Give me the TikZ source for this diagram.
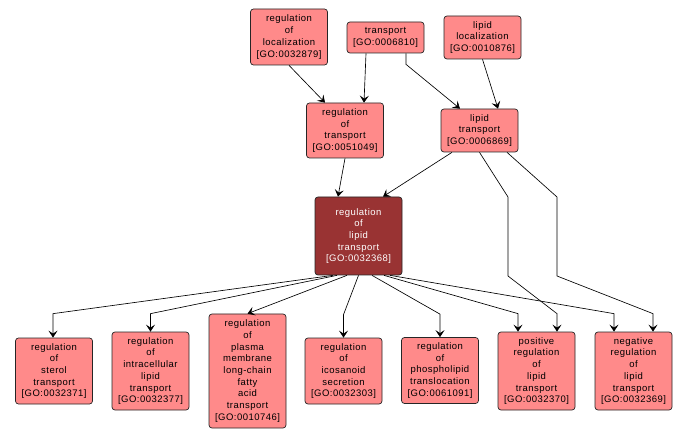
\documentclass[tikz,border=0pt]{standalone}
\usepackage{fontspec}
\newfontfamily\gofont[LetterSpace=5]{Liberation Sans}
\definecolor{termred}{RGB}{255,138,138}
\definecolor{focusred}{RGB}{153,51,51}
\usetikzlibrary{arrows.meta, positioning}

\tikzset{
  term/.style={draw=black!85, fill=termred, rounded corners=3pt, line width=0.7pt, minimum width=77pt, align=center, inner sep=2pt, font=\gofont\fontsize{9.5}{11.7}\selectfont},
  focus/.style={term, fill=focusred, text=white, minimum width=87pt},
  edge/.style={-{Stealth[length=7pt, width=9pt, inset=3pt]}, line width=0.65pt}
}

\begin{document}
\begin{tikzpicture}[x=1pt, y=-1pt]
  \useasboundingbox (0,0) rectangle (688,438);

  % Parents
  \node[term, minimum height=56pt] (regloc) at (289,37) {regulation\\of\\localization\\{[GO:0032879]}};
  \node[term, minimum height=31pt] (transport) at (385.5,37.5) {transport\\{[GO:0006810]}};
  \node[term, minimum height=43pt] (lipidloc) at (482.5,37.5) {lipid\\localization\\{[GO:0010876]}};

  \node[term, minimum height=55pt] (regtrans) at (345,130.5) {regulation\\of\\transport\\{[GO:0051049]}};
  \node[term, minimum height=43pt] (lipidtrans) at (479.5,130.5) {lipid\\transport\\{[GO:0006869]}};

  % Focus term
  \node[focus, minimum height=78pt] (reglipid) at (358.5,236) {regulation\\of\\lipid\\transport\\{[GO:0032368]}};

  % Children
  \node[term, minimum height=66pt] (sterol) at (54,371) {regulation\\of\\sterol\\transport\\{[GO:0032371]}};
  \node[term, minimum height=78pt] (intracell) at (150.5,371) {regulation\\of\\intracellular\\lipid\\transport\\{[GO:0032377]}};
  \node[term, minimum height=114pt] (plasma) at (247.5,371) {regulation\\of\\plasma\\membrane\\long-chain\\fatty\\acid\\transport\\{[GO:0010746]}};
  \node[term, minimum height=66pt] (icosanoid) at (343.5,371) {regulation\\of\\icosanoid\\secretion\\{[GO:0032303]}};
  \node[term, minimum height=66pt] (phospho) at (440,370.5) {regulation\\of\\phospholipid\\translocation\\{[GO:0061091]}};
  \node[term, minimum height=78pt] (posreg) at (536.5,371) {positive\\regulation\\of\\lipid\\transport\\{[GO:0032370]}};
  \node[term, minimum height=78pt] (negreg) at (633.5,371) {negative\\regulation\\of\\lipid\\transport\\{[GO:0032369]}};

  % Top edges
  \draw[edge] (regloc.south) -- ([xshift=-20pt]regtrans.north);
  \draw[edge] ([xshift=-19.5pt]transport.south) -- ([xshift=19pt]regtrans.north);
  \draw[edge] ([xshift=20.5pt]transport.south) -- ([xshift=20.5pt, yshift=-11pt]transport.south) -- ([xshift=-19.5pt]lipidtrans.north);
  \draw[edge] (lipidloc.south) -- ([xshift=18.5pt]lipidtrans.north);
  \draw[edge] (regtrans.south) -- ([xshift=-20.5pt]reglipid.north);
  \draw[edge] ([xshift=-27.5pt]lipidtrans.south) -- ([xshift=24.5pt]reglipid.north);
  \draw[edge] (lipidtrans.south) -- (508,197) -- (508,276) -- ([xshift=20.5pt, yshift=18pt]posreg.north) -- ([xshift=20.5pt]posreg.north);
  \draw[edge] ([xshift=27.5pt]lipidtrans.south) -- (557,197) -- (557,276) -- ([xshift=19.5pt, yshift=18pt]negreg.north) -- ([xshift=19.5pt]negreg.north);

  % Bottom edges
  \draw[edge] ([xshift=-25.5pt]reglipid.south) -- ([xshift=-1pt, yshift=24pt]sterol.north) -- ([xshift=-1pt]sterol.north);
  \draw[edge] ([xshift=-21.5pt]reglipid.south) -- ([yshift=18pt]intracell.north) -- (intracell.north);
  \draw[edge] ([xshift=-11.5pt]reglipid.south) -- (plasma.north);
  \draw[edge] (reglipid.south) -- ([yshift=23pt]icosanoid.north) -- (icosanoid.north);
  \draw[edge] ([xshift=13.5pt]reglipid.south) -- ([yshift=23pt]phospho.north) -- (phospho.north);
  \draw[edge] ([xshift=25.5pt]reglipid.south) -- ([xshift=-18.5pt, yshift=18pt]posreg.north) -- ([xshift=-18.5pt]posreg.north);
  \draw[edge] ([xshift=31.5pt]reglipid.south) -- ([xshift=-19.5pt, yshift=18pt]negreg.north) -- ([xshift=-19.5pt]negreg.north);
\end{tikzpicture}
\end{document}
